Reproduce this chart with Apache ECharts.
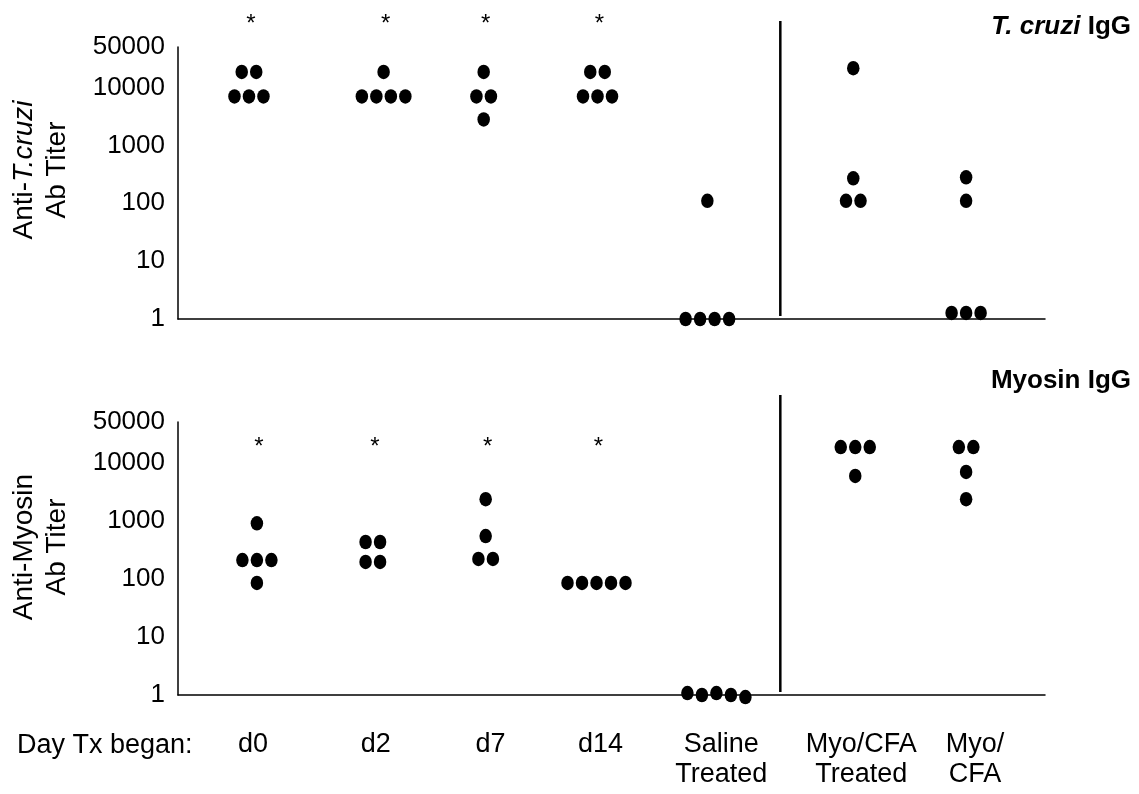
<!DOCTYPE html>
<html>
<head>
<meta charset="utf-8">
<title>Anti-T. cruzi and anti-myosin IgG titers</title>
<script src="https://cdn.jsdelivr.net/npm/echarts@6/dist/echarts.min.js"></script>
<style>
  html, body { margin: 0; padding: 0; background: #fff; }
  #chart { width: 1139px; height: 794px; }
</style>
</head>
<body>
<div id="chart"></div>
<script>
// ---- data ----
const groups = ['d0', 'd2', 'd7', 'd14', 'Saline\nTreated', 'Myo/CFA\nTreated', 'Myo/\nCFA'];

// anti-T. cruzi IgG titer per animal, one list per group
const tcruziTiters = [
  [18500, 18500, 7000, 7000, 7000],
  [18500, 7000, 7000, 7000, 7000],
  [18500, 7000, 7000, 2800],
  [18500, 18500, 7000, 7000, 7000],
  [110, 1, 1, 1, 1],
  [21500, 270, 110, 110],
  [280, 110, 1.27, 1.27, 1.27]
];

// anti-myosin IgG titer per animal, one list per group
const myosinTiters = [
  [900, 210, 210, 210, 85],
  [430, 430, 195, 195],
  [2350, 545, 220, 220],
  [85, 85, 85, 85, 85],
  [1.08, 1, 1.08, 1, 0.92],
  [18500, 18500, 18500, 5900],
  [18500, 18500, 6900, 2350]
];

// groups marked as significantly different
const significant = [true, true, true, true, false, false, false];

const titerMin = 1;
const titerMax = 50000;

// ---- layout ----
const FONT = '"Liberation Sans", Arial, sans-serif';
const tcruziPos = [0.573, 1.66, 2.468, 3.387, 4.274, 5.452, 6.363];
const myosinPos = [0.637, 1.573, 2.484, 3.379, 4.347, 5.468, 6.363];
const labelPos  = [0.605, 1.597, 2.524, 3.411, 4.387, 5.516, 6.435];
const dividerPos = 4.863;
const dotGap = 14.5;

// spread animals with (nearly) equal titers side by side
function swarm(lists, centers) {
  const out = [];
  lists.forEach((values, g) => {
    const rows = [];
    values.forEach(v => {
      const lv = Math.log10(v);
      let row = rows.find(r => Math.abs(r.lv - lv) < 0.12);
      if (!row) { row = { lv, items: [] }; rows.push(row); }
      row.items.push(v);
    });
    rows.forEach(r => r.items.forEach((v, i) => {
      out.push({
        value: [centers[g], v],
        symbolOffset: [(i - (r.items.length - 1) / 2) * dotGap, 0]
      });
    }));
  });
  return out;
}

function yAxisFor(gridIndex, name, shift) {
  return {
    type: 'log', logBase: 10, gridIndex,
    min: titerMin, max: titerMax,
    axisLine: { show: true, lineStyle: { color: '#000', width: 1.5 } },
    axisTick: { show: false },
    splitLine: { show: false },
    axisLabel: {
      color: '#000', fontFamily: FONT, fontSize: 26, margin: 13,
      padding: [0, 0, 8, 0],
      formatter: v => String(Math.round(v))
    },
    name,
    nameLocation: 'middle', nameRotate: 90, nameGap: 104,
    nameTextStyle: {
      color: '#000', fontFamily: FONT, fontSize: 28, lineHeight: 33,
      padding: [0, 0, 0, shift],
      rich: {
        n: { color: '#000', fontFamily: FONT, fontSize: 28, lineHeight: 33 },
        i: { color: '#000', fontFamily: FONT, fontSize: 28, lineHeight: 33, fontStyle: 'italic' }
      }
    }
  };
}

function xAxisFor(gridIndex, withLabels) {
  const ax = {
    type: 'value', gridIndex, min: 0, max: 7,
    axisLine: { show: true, onZero: false, lineStyle: { color: '#000', width: 1.5 } },
    axisTick: { show: false },
    splitLine: { show: false },
    axisLabel: { show: false }
  };
  if (withLabels) {
    ax.axisLabel = {
      show: true,
      customValues: labelPos,
      color: '#000', fontFamily: FONT, fontSize: 27, lineHeight: 30,
      margin: 35, verticalAlign: 'top', align: 'center',
      formatter: v => {
        let best = 0;
        labelPos.forEach((p, i) => { if (Math.abs(p - v) < Math.abs(labelPos[best] - v)) best = i; });
        return groups[best];
      }
    };
  }
  return ax;
}

const dotStyle = {
  type: 'scatter', symbol: 'circle', symbolSize: [12.5, 14.5],
  itemStyle: { color: '#000', opacity: 1 }, clip: false, silent: true, z: 5
};

const chart = echarts.init(document.getElementById('chart'), null, { renderer: 'canvas' });

chart.setOption({
  animation: false,
  backgroundColor: '#fff',
  grid: [
    { left: 177, top: 47, width: 868, height: 272 },
    { left: 177, top: 422, width: 868, height: 273 }
  ],
  xAxis: [xAxisFor(0, false), xAxisFor(1, true)],
  yAxis: [
    yAxisFor(0, '{n|Anti-}{i|T.cruzi}\n{n|Ab Titer}', 26),
    yAxisFor(1, '{n|Anti-Myosin}\n{n|Ab Titer}', 23)
  ],
  series: [
    Object.assign({ name: 'T. cruzi IgG', xAxisIndex: 0, yAxisIndex: 0, data: swarm(tcruziTiters, tcruziPos) }, dotStyle),
    Object.assign({ name: 'Myosin IgG', xAxisIndex: 1, yAxisIndex: 1, data: swarm(myosinTiters, myosinPos) }, dotStyle)
  ]
});

// annotations tied to the axes: dividers, significance stars, panel titles
function annotations() {
  const g = [];
  const panels = [
    { grid: 0, pos: tcruziPos, starDy: -23, lineTop: -26 },
    { grid: 1, pos: myosinPos, starDy: 25, lineTop: -27 }
  ];
  panels.forEach(p => {
    const top = chart.convertToPixel({ yAxisIndex: p.grid }, titerMax);
    const bottom = chart.convertToPixel({ yAxisIndex: p.grid }, titerMin);
    const xd = chart.convertToPixel({ xAxisIndex: p.grid }, dividerPos);
    g.push({
      type: 'line', silent: true,
      shape: { x1: xd, y1: top + p.lineTop, x2: xd, y2: bottom - 3 },
      style: { stroke: '#000', lineWidth: 2.5 }
    });
    significant.forEach((s, i) => {
      if (!s) return;
      g.push({
        type: 'text', silent: true,
        x: chart.convertToPixel({ xAxisIndex: p.grid }, p.pos[i]) + 2,
        y: top + p.starDy,
        style: { text: '*', fill: '#000', font: '24px ' + FONT, align: 'center', verticalAlign: 'middle' }
      });
    });
  });
  g.push({
    type: 'text', silent: true, x: 1131, y: 27,
    style: {
      text: '{i|T. cruzi}{b| IgG}', align: 'right', verticalAlign: 'middle', fill: '#000',
      rich: {
        i: { fontFamily: FONT, fontSize: 26, fontWeight: 'bold', fontStyle: 'italic', fill: '#000' },
        b: { fontFamily: FONT, fontSize: 26, fontWeight: 'bold', fill: '#000' }
      }
    }
  });
  g.push({
    type: 'text', silent: true, x: 1131, y: 381,
    style: { text: 'Myosin IgG', align: 'right', verticalAlign: 'middle', fill: '#000', font: 'bold 26px ' + FONT }
  });
  g.push({
    type: 'text', silent: true, x: 17, y: 746,
    style: { text: 'Day Tx began:', align: 'left', verticalAlign: 'middle', fill: '#000', font: '27px ' + FONT }
  });
  chart.setOption({ graphic: g });
}
annotations();
</script>
</body>
</html>
